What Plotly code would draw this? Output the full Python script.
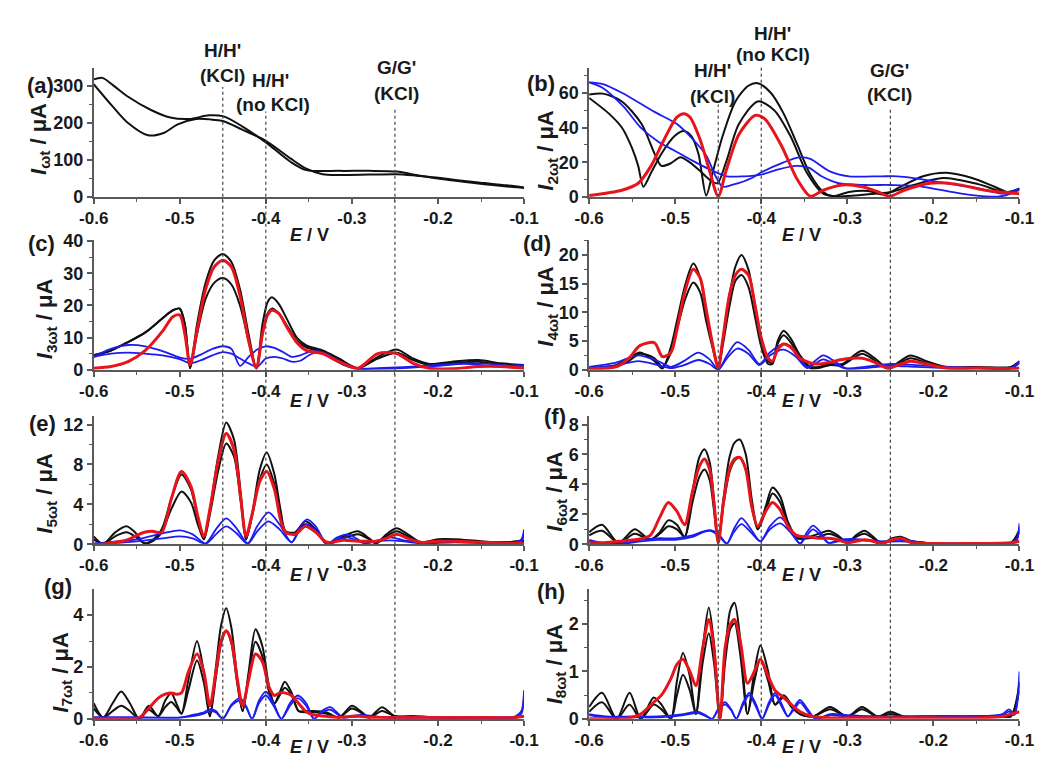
import plotly.graph_objects as go

# ------------------------------------------------------------------ data
x_ticks = [-0.6, -0.5, -0.4, -0.3, -0.2, -0.1]
x_tick_labels = ["-0.6", "-0.5", "-0.4", "-0.3", "-0.2", "-0.1"]
x_minor = [-0.55, -0.45, -0.35, -0.25, -0.15]
marker_E = [-0.45, -0.40, -0.25]

# (a) DC component, two sweeps
a1_x = [-0.6, -0.578, -0.56, -0.537, -0.518, -0.503, -0.481, -0.465, -0.449, -0.428, -0.4, -0.371,
        -0.353, -0.334, -0.315, -0.28, -0.248, -0.225, -0.202, -0.175, -0.146, -0.125, -0.112, -0.1]
a1_y = [305, 245, 200, 167, 174, 196, 211, 210, 205, 183, 152, 104, 77, 62, 60, 61, 62, 58, 53, 45,
        38, 33, 30, 26]
a2_x = [-0.6, -0.59, -0.578, -0.56, -0.534, -0.511, -0.489, -0.466, -0.449, -0.428, -0.4, -0.371,
        -0.353, -0.315, -0.28, -0.248, -0.225, -0.202, -0.175, -0.146, -0.12, -0.104, -0.1]
a2_y = [318, 322, 303, 271, 236, 215, 211, 221, 218, 192, 148, 95, 73, 71, 71, 69, 60, 51, 43, 35,
        29, 26, 25]

# (b) 2nd harmonic
b_black1_x = [-0.6, -0.577, -0.562, -0.55, -0.543, -0.537, -0.528, -0.516, -0.501, -0.49, -0.481,
              -0.473, -0.464, -0.456, -0.445, -0.43, -0.415, -0.404, -0.389, -0.374, -0.358, -0.343,
              -0.328, -0.317, -0.298, -0.276, -0.257, -0.242, -0.212, -0.185, -0.155, -0.129,
              -0.114, -0.1]
b_black1_y = [57, 48, 40, 28, 18, 6, 14, 25, 35, 38, 35, 25, 1, 15, 35, 55, 64, 65.5, 60, 48, 30, 13,
              3, 0.5, 3, 3.5, 1.5, 5, 12, 14, 11, 6, 3, 5]
b_black2_x = [-0.6, -0.584, -0.562, -0.539, -0.524, -0.516, -0.505, -0.494, -0.483, -0.471, -0.46,
              -0.451, -0.441, -0.426, -0.404, -0.385, -0.366, -0.347, -0.328, -0.313, -0.291,
              -0.268, -0.249, -0.223, -0.189, -0.148, -0.118, -0.1]
b_black2_y = [59, 59.5, 55, 42, 25, 18, 19.5, 23, 20, 15, 10, 8, 20, 42, 55, 50, 35, 14, 2, 0.5, 1,
              2, 3, 7, 11, 7.5, 3, 4]
b_red_x = [-0.6, -0.562, -0.543, -0.528, -0.513, -0.498, -0.49, -0.483, -0.471, -0.46, -0.45, -0.441,
           -0.426, -0.407, -0.396, -0.377, -0.358, -0.343, -0.328, -0.306, -0.283, -0.264, -0.251,
           -0.234, -0.204, -0.174, -0.14, -0.1]
b_red_y = [1, 4, 8, 18, 33, 46, 48, 46, 33, 15, 0.5, 15, 36, 47, 45, 30, 10, 0.5, 4, 7, 6, 3, 0.5,
           4, 8, 7.5, 4, 2]
b_blue1_x = [-0.6, -0.584, -0.562, -0.524, -0.498, -0.479, -0.464, -0.453, -0.445, -0.434, -0.411,
             -0.401, -0.374, -0.355, -0.343, -0.321, -0.298, -0.261, -0.242, -0.223, -0.185, -0.148,
             -0.118, -0.1]
b_blue1_y = [66, 65, 60, 49, 42, 33, 24, 12, 6, 7, 11, 14, 20, 23, 22, 15, 12, 12, 12, 11, 8, 5, 2, 5]
b_blue2_x = [-0.6, -0.585, -0.56, -0.54, -0.52, -0.498, -0.48, -0.46, -0.44, -0.42, -0.4, -0.38,
             -0.36, -0.345, -0.33, -0.31, -0.28, -0.25, -0.22, -0.19, -0.16, -0.14, -0.125, -0.11,
             -0.1]
b_blue2_y = [66, 63, 52, 40, 32, 26, 21, 16, 12, 12, 13, 16, 18, 17, 12, 8, 7, 7, 6.5, 4, 1.5, 0.5,
             0.3, 2, 5]

# (c) 3rd harmonic
c_x = [-0.6, -0.58, -0.56, -0.54, -0.52, -0.508, -0.5, -0.494, -0.488, -0.48, -0.47, -0.46, -0.45,
       -0.44, -0.43, -0.42, -0.411, -0.404, -0.398, -0.393, -0.385, -0.375, -0.364, -0.353, -0.334,
       -0.315, -0.293, -0.27, -0.248, -0.229, -0.21, -0.184, -0.153, -0.127, -0.1]
c_black1 = [4.5, 6, 8.6, 11.6, 16, 18.5, 19, 14, 0.5, 14, 27, 34, 36, 33.5, 25, 11, 0.5, 14, 21, 22.5,
            20.5, 15.5, 10, 7.6, 6, 3.5, 0.5, 4, 6.3, 3.5, 1.8, 2.5, 3, 2, 1.5]
c_black2 = [4.5, 6, 8.6, 11.6, 16, 18.5, 19, 14, 0.5, 11, 22, 27, 28.5, 26.5, 20, 9, 0.5, 11, 17.5, 19,
            17.5, 13.5, 9, 7, 5.5, 3, 0.5, 3.5, 5.3, 3, 1.5, 2, 2.5, 1.5, 1.3]
c_red = [0.5, 1, 2.5, 6, 12, 16.5, 17, 11, 1.5, 12, 25, 32, 34, 32, 23, 9, 0.5, 11, 17, 18.5, 17.5, 13,
         8.5, 6, 5, 2.5, 0.5, 5, 5, 2, 0.5, 0.3, 1, 1, 0.5]
c_bx = [-0.6, -0.58, -0.56, -0.54, -0.52, -0.5, -0.488, -0.475, -0.462, -0.45, -0.44, -0.43, -0.42,
        -0.41, -0.4, -0.39, -0.38, -0.37, -0.36, -0.35, -0.34, -0.33, -0.32, -0.31, -0.295, -0.27,
        -0.24, -0.2, -0.17, -0.14, -0.12, -0.1]
c_blue1 = [4, 6.5, 7.7, 7.3, 5.8, 3.8, 3.4, 4.8, 6.5, 7.3, 6.5, 1.2, 4, 6.3, 7.3, 6.8, 5.5, 4, 4.5,
           5.5, 5.8, 5, 3.5, 2, 0.5, 0.5, 0.8, 1.5, 2, 1.8, 1.3, 1.5]
c_blue2 = [4, 5, 5.3, 5, 4.5, 3.3, 2, 3, 4.5, 5.5, 5, 3.5, 2, 1, 3.5, 4, 3.5, 2.5, 2.8, 4.5, 5.5, 4.5,
           3, 1.5, 0.3, 0.3, 0.5, 1.2, 1.8, 1.2, 0.8, 0.8]

# (d) 4th harmonic
d_x = [-0.6, -0.569, -0.554, -0.541, -0.524, -0.515, -0.505, -0.498, -0.488, -0.479, -0.471, -0.464,
       -0.456, -0.45, -0.445, -0.437, -0.43, -0.423, -0.415, -0.407, -0.4, -0.392, -0.387, -0.381,
       -0.374, -0.366, -0.355, -0.343, -0.333, -0.321, -0.306, -0.283, -0.268, -0.253, -0.227,
       -0.208, -0.185, -0.148, -0.11, -0.1]
d_black1 = [0.3, 0.8, 2, 3, 1.5, 0.2, 4, 8.5, 15, 18.5, 16, 10, 4, 0.3, 5, 13, 18, 20, 17.5, 11, 5,
            1.5, 1.2, 5, 6.8, 5.5, 2.5, 0.5, 0.5, 1, 1, 3.3, 2, 0.3, 2.5, 1.5, 0.5, 0.5, 0.5, 1.5]
d_black2 = [0.3, 0.5, 1.5, 2.8, 2, 0.5, 3, 7, 12.5, 15.2, 13.5, 8.5, 3.5, 0.3, 4, 11, 15.5, 16.5,
            14.5, 9, 4, 1, 1, 4.5, 6, 4.8, 2, 0.3, 0.3, 0.8, 0.8, 2.8, 1.6, 0.2, 2, 1.2, 0.3, 0.3,
            0.3, 1.2]
d_red = [0.2, 0.5, 2, 4.2, 4.7, 2.3, 3, 7, 14, 17.5, 16, 10.5, 4, 0.3, 5, 13, 16.5, 17.5, 16.5, 11,
         5.5, 2, 1.5, 3.5, 4.5, 4, 2, 1.2, 1, 1.3, 1.8, 2, 1.3, 0.3, 1.5, 1, 0.3, 0.3, 0.2, 0.3]
d_bx = [-0.6, -0.57, -0.543, -0.52, -0.505, -0.49, -0.473, -0.46, -0.45, -0.44, -0.428, -0.415,
        -0.402, -0.39, -0.374, -0.36, -0.347, -0.338, -0.328, -0.315, -0.302, -0.28, -0.25, -0.22,
        -0.18, -0.14, -0.11, -0.1]
d_blue1 = [0.5, 1.2, 2.5, 1.5, 0.5, 1.5, 3, 1.8, 0, 2.5, 4.8, 3.5, 1, 3, 4.5, 3, 0.5, 1.5, 2.5, 1.5,
           0.3, 0.5, 1, 0.8, 0.5, 0.3, 0.3, 1.5]
d_blue2 = [0.3, 0.7, 1.5, 0.8, 0.3, 0.8, 1.7, 1, 0, 2, 3.7, 2.8, 0.8, 2.5, 3.5, 2.3, 0.3, 1, 1.8, 1,
           0.2, 0.3, 0.7, 0.5, 0.3, 0.2, 0.2, 1.2]

# (e) 5th harmonic
e_x = [-0.6, -0.589, -0.575, -0.562, -0.552, -0.541, -0.532, -0.521, -0.51, -0.498, -0.487, -0.479,
       -0.472, -0.465, -0.455, -0.446, -0.437, -0.429, -0.423, -0.416, -0.407, -0.399, -0.39, -0.383,
       -0.377, -0.366, -0.354, -0.342, -0.329, -0.31, -0.293, -0.28, -0.272, -0.26, -0.248, -0.235,
       -0.22, -0.2, -0.18, -0.15, -0.12, -0.1]
e_black1 = [0.8, 0.05, 1.2, 1.8, 1.2, 0.1, 0.4, 1.5, 4.5, 7.0, 5.5, 2.5, 0.5, 3.5, 9, 12.2, 10.5, 5,
            0.5, 3, 7.5, 9.2, 7, 3.5, 1.3, 1.2, 2.3, 1.5, 0.05, 0.8, 1.3, 0.6, 0.1, 1.0, 1.6, 1.0,
            0.2, 0.5, 0.5, 0.3, 0.2, 0.4]
e_black2 = [0.5, 0.05, 0.8, 1.2, 0.8, 0.1, 0.3, 1.2, 3.5, 5.3, 4.2, 2, 0.5, 3, 7.5, 10.1, 8.8, 4.2,
            0.5, 2.8, 6.5, 8.0, 6, 3, 1.2, 1.1, 2.0, 1.3, 0.05, 0.6, 1.0, 0.5, 0.1, 0.8, 1.3, 0.8,
            0.2, 0.4, 0.4, 0.2, 0.2, 0.3]
e_red = [0, 0, 0.2, 0.4, 0.8, 1.2, 1.3, 1.2, 4.5, 7.3, 5.8, 2.8, 0.8, 3.5, 8.5, 11.1, 9.5, 4.5, 0.8,
         3, 6.3, 7.3, 5.5, 2.5, 1.2, 1.0, 1.8, 1.2, 0.2, 0.4, 0.3, 0.3, 0.3, 0.6, 1.0, 0.6, 0.2, 0.3,
         0.3, 0.2, 0.1, 0.1]
e_bx = [-0.6, -0.55, -0.52, -0.5, -0.485, -0.47, -0.458, -0.446, -0.434, -0.421, -0.41, -0.397,
        -0.384, -0.37, -0.36, -0.352, -0.342, -0.329, -0.317, -0.305, -0.295, -0.285, -0.27, -0.255,
        -0.24, -0.22, -0.18, -0.14, -0.11, -0.103, -0.1]
e_blue1 = [0.1, 0.5, 1.1, 1.4, 1.0, 0.1, 1.5, 2.6, 1.6, 0.1, 1.8, 3.2, 2.0, 0.2, 1.8, 2.5, 1.8, 0.05,
           0.7, 1.0, 0.6, 0.1, 0.4, 0.7, 0.4, 0.2, 0.3, 0.2, 0.2, 0.5, 1.5]
e_blue2 = [0, 0.3, 0.6, 0.8, 0.6, 0.05, 1.0, 1.8, 1.1, 0.05, 1.3, 2.3, 1.5, 0.2, 1.5, 2.0, 1.4, 0.05,
           0.5, 0.7, 0.4, 0.1, 0.3, 0.4, 0.3, 0.1, 0.2, 0.1, 0.1, 0.3, 1.0]

# (f) 6th harmonic
f_x = [-0.6, -0.585, -0.566, -0.547, -0.529, -0.518, -0.508, -0.498, -0.489, -0.48, -0.472, -0.466,
       -0.46, -0.455, -0.45, -0.444, -0.437, -0.431, -0.425, -0.418, -0.411, -0.404, -0.395, -0.387,
       -0.378, -0.369, -0.359, -0.345, -0.333, -0.322, -0.311, -0.3, -0.29, -0.28, -0.27, -0.26,
       -0.248, -0.238, -0.225, -0.2, -0.15, -0.11, -0.1]
f_black1 = [0.8, 1.3, 0.1, 1.0, 0.3, 0.8, 1.6, 1.3, 0.5, 3.5, 5.8, 6.35, 5.5, 3, 0.1, 3, 5.8, 6.8,
            7.0, 6, 3, 1.0, 2.5, 3.8, 3.2, 1.5, 0.5, 0.5, 0.7, 0.9, 0.6, 0.1, 0.6, 0.9, 0.5, 0.05,
            0.4, 0.5, 0.2, 0.05, 0.05, 0.1, 1.0]
f_black2 = [0.6, 0.9, 0.1, 0.7, 0.3, 0.7, 1.2, 1.0, 0.5, 2.8, 4.5, 5.0, 4.3, 2.3, 0.1, 2.6, 4.8, 5.6,
            5.8, 5, 2.5, 1.0, 2.2, 3.4, 2.8, 1.3, 0.4, 0.4, 0.5, 0.7, 0.5, 0.1, 0.5, 0.7, 0.4, 0.05,
            0.3, 0.4, 0.2, 0.05, 0.05, 0.1, 0.8]
f_red = [0.1, 0.1, 0.2, 0.3, 0.6, 1.8, 2.8, 2.2, 1.3, 3.5, 5.2, 5.7, 5, 2.8, 0.1, 2.8, 5, 5.7, 5.8, 5,
         2.5, 1.2, 2.2, 2.8, 2.3, 1.2, 0.6, 0.5, 0.4, 0.4, 0.3, 0.1, 0.2, 0.3, 0.2, 0.05, 0.3, 0.4,
         0.1, 0.05, 0.05, 0.1, 0.2]
f_bx = [-0.6, -0.58, -0.56, -0.54, -0.52, -0.5, -0.48, -0.468, -0.459, -0.45, -0.44, -0.432, -0.423,
        -0.412, -0.401, -0.39, -0.378, -0.366, -0.355, -0.347, -0.34, -0.331, -0.322, -0.31, -0.29,
        -0.26, -0.24, -0.2, -0.15, -0.11, -0.103, -0.1]
f_blue1 = [0.3, 0.05, 0.1, 0.3, 0.4, 0.4, 0.6, 0.85, 0.95, 0.7, 0.05, 1.0, 1.75, 1.0, 0.2, 1.2, 1.8,
           1.0, 0.05, 0.8, 1.25, 0.8, 0.1, 0.3, 0.35, 0.2, 0.3, 0.05, 0.05, 0.1, 0.4, 1.4]
f_blue2 = [0.2, 0.05, 0.05, 0.2, 0.3, 0.3, 0.5, 0.8, 0.9, 0.6, 0.05, 0.8, 1.35, 0.8, 0.2, 1.0, 1.4,
           0.8, 0.05, 0.6, 1.0, 0.6, 0.1, 0.2, 0.3, 0.15, 0.2, 0.05, 0.05, 0.1, 0.3, 1.2]

# (g) 7th harmonic
g_x = [-0.6, -0.589, -0.578, -0.568, -0.558, -0.547, -0.536, -0.525, -0.517, -0.51, -0.504, -0.498,
       -0.49, -0.48, -0.472, -0.465, -0.458, -0.452, -0.446, -0.44, -0.433, -0.427, -0.42, -0.412,
       -0.404, -0.396, -0.39, -0.384, -0.378, -0.37, -0.362, -0.354, -0.345, -0.33, -0.315, -0.3,
       -0.29, -0.28, -0.265, -0.25, -0.23, -0.2, -0.15, -0.11, -0.1]
g_black1 = [0.6, 0.05, 0.6, 1.05, 0.6, 0.0, 0.5, 0.1, 0.7, 1.0, 0.6, 0.2, 1.5, 3.0, 1.8, 0.1, 2.0,
            3.6, 4.26, 3.5, 1.5, 0.3, 1.8, 3.45, 2.8, 1.2, 0.6, 1.0, 1.43, 1.0, 0.3, 0.3, 0.3, 0.25,
            0.05, 0.5, 0.3, 0.05, 0.45, 0.1, 0.1, 0.05, 0.05, 0.05, 0.1]
g_black2 = [0.4, 0.05, 0.3, 0.5, 0.3, 0.0, 0.35, 0.1, 0.45, 0.65, 0.45, 0.2, 1.1, 2.25, 1.4, 0.1,
            1.6, 2.9, 3.4, 2.9, 1.3, 0.3, 1.6, 2.97, 2.4, 1.0, 0.6, 0.9, 1.2, 0.9, 0.3, 0.25, 0.25,
            0.2, 0.05, 0.4, 0.25, 0.05, 0.3, 0.1, 0.1, 0.05, 0.05, 0.05, 0.1]
g_red = [0, 0, 0, 0, 0, 0.05, 0.4, 0.8, 0.95, 1.0, 0.95, 1.0, 1.8, 2.5, 1.8, 0.5, 1.8, 3.0, 3.4, 3.0,
         1.5, 0.5, 1.5, 2.5, 2.2, 1.2, 0.9, 1.0, 1.0, 0.9, 0.6, 0.3, 0.15, 0.1, 0.05, 0.1, 0.1, 0.05,
         0.05, 0.05, 0.05, 0.05, 0.05, 0.05, 0.1]
g_bx = [-0.6, -0.55, -0.5, -0.485, -0.472, -0.465, -0.458, -0.45, -0.44, -0.43, -0.423, -0.416,
        -0.408, -0.4, -0.391, -0.382, -0.372, -0.363, -0.353, -0.344, -0.335, -0.325, -0.316, -0.31,
        -0.29, -0.26, -0.2, -0.15, -0.11, -0.103, -0.1]
g_blue1 = [0.05, 0.05, 0.05, 0.15, 0.25, 0.37, 0.3, 0.0, 0.55, 0.8, 0.5, 0.0, 0.7, 1.05, 0.6, 0.0,
           0.6, 0.9, 0.6, 0.0, 0.3, 0.45, 0.2, 0.05, 0.15, 0.05, 0.05, 0.05, 0.1, 0.3, 1.1]
g_blue2 = [0.05, 0.05, 0.05, 0.1, 0.2, 0.3, 0.25, 0.0, 0.5, 0.7, 0.45, 0.0, 0.6, 0.9, 0.5, 0.0, 0.5,
           0.8, 0.5, 0.0, 0.25, 0.35, 0.15, 0.05, 0.1, 0.05, 0.05, 0.05, 0.05, 0.2, 0.9]

# (h) 8th harmonic
h_x = [-0.6, -0.585, -0.568, -0.553, -0.54, -0.525, -0.516, -0.505, -0.498, -0.491, -0.483, -0.476,
       -0.468, -0.461, -0.455, -0.448, -0.442, -0.436, -0.431, -0.424, -0.416, -0.408, -0.401,
       -0.392, -0.384, -0.374, -0.365, -0.355, -0.34, -0.32, -0.3, -0.283, -0.265, -0.25, -0.235,
       -0.2, -0.15, -0.12, -0.11, -0.1]
h_black1 = [0.25, 0.55, 0.0, 0.55, 0.0, 0.45, 0.3, 0.0, 0.8, 1.39, 0.9, 0.1, 1.5, 2.35, 1.6, 0.0, 1.4,
            2.3, 2.45, 1.6, 0.1, 1.0, 1.55, 1.0, 0.3, 0.5, 0.3, 0.1, 0.05, 0.25, 0.05, 0.25, 0.05,
            0.15, 0.05, 0.05, 0.05, 0.05, 0.05, 0.6]
h_black2 = [0.15, 0.35, 0.0, 0.3, 0.0, 0.3, 0.2, 0.0, 0.5, 0.93, 0.6, 0.1, 1.2, 1.81, 1.2, 0.0, 1.2,
            1.9, 2.02, 1.3, 0.1, 0.8, 1.26, 0.8, 0.3, 0.45, 0.25, 0.1, 0.05, 0.2, 0.05, 0.2, 0.05,
            0.1, 0.05, 0.05, 0.05, 0.05, 0.05, 0.75]
h_red = [0.0, 0.0, 0.0, 0.02, 0.1, 0.35, 0.5, 0.85, 1.15, 1.26, 1.0, 0.7, 1.5, 2.1, 1.5, 0.0, 1.5,
         2.0, 2.1, 1.6, 0.75, 1.0, 1.26, 0.9, 0.6, 0.45, 0.3, 0.15, 0.05, 0.02, 0.02, 0.02, 0.02,
         0.02, 0.02, 0.02, 0.02, 0.05, 0.1, 0.15]
h_bx = [-0.6, -0.58, -0.55, -0.52, -0.49, -0.474, -0.465, -0.457, -0.449, -0.442, -0.435, -0.429,
        -0.421, -0.414, -0.406, -0.399, -0.391, -0.384, -0.376, -0.369, -0.362, -0.355, -0.346,
        -0.337, -0.32, -0.3, -0.27, -0.2, -0.15, -0.12, -0.112, -0.106, -0.1]
h_blue1 = [0.1, 0.05, 0.05, 0.05, 0.1, 0.15, 0.08, 0.0, 0.25, 0.35, 0.2, 0.0, 0.35, 0.55, 0.3, 0.0,
           0.35, 0.55, 0.3, 0.05, 0.25, 0.4, 0.2, 0.0, 0.1, 0.08, 0.05, 0.05, 0.05, 0.1, 0.2, 0.1, 1.0]
h_blue2 = [0.08, 0.03, 0.03, 0.03, 0.08, 0.12, 0.06, 0.0, 0.22, 0.3, 0.18, 0.0, 0.3, 0.5, 0.25, 0.0,
           0.3, 0.5, 0.25, 0.05, 0.2, 0.35, 0.15, 0.0, 0.08, 0.05, 0.05, 0.05, 0.05, 0.08, 0.15, 0.08,
           0.8]

# y-axis ticks per panel
a_yticks = [0, 100, 200, 300]
b_yticks = [0, 20, 40, 60]
c_yticks = [0, 10, 20, 30, 40]
d_yticks = [0, 5, 10, 15, 20]
e_yticks = [0, 4, 8, 12]
f_yticks = [0, 2, 4, 6, 8]
g_yticks = [0, 2, 4]
h_yticks = [0, 1, 2]

# ------------------------------------------------------------------ layout helpers
W, H = 1051, 761
COLS = {"L": (81, 524), "R": (591, 1034)}
ROWS = [(60, 193), (237, 370), (417, 549), (595, 728)]

BLACK = "#111111"
RED = "#e8141b"
BLUE = "#1c1cf0"
AXC = "#5a5a5a"
TXT = "#1a1a1a"
FONT = "Liberation Sans, Arial, sans-serif"


def fx(p):
    return p / W


def fy(p):
    return 1 - p / H


panels = [
    # key, col, row, yrange, yticks, minor step, subscript, label pos, ytitle pos
    ("a", "L", 0, [0, 350], a_yticks, 50, "ωt", (26, 78), (25, 133)),
    ("b", "R", 0, [0, 74.5], b_yticks, 10, "2ωt", (541, 76), (548, 145)),
    ("c", "L", 1, [0, 40.3], c_yticks, 5, "3ωt", (27, 240), (32, 318)),
    ("d", "R", 1, [0, 22.6], d_yticks, 2.5, "4ωt", (537, 240), (548, 305)),
    ("e", "L", 2, [0, 12.9], e_yticks, 2, "5ωt", (28, 425), (32, 497)),
    ("f", "R", 2, [0, 8.6], f_yticks, 1, "6ωt", (556, 418), (557, 495)),
    ("g", "L", 3, [0, 5.0], g_yticks, 1, "7ωt", (44, 592), (48, 680)),
    ("h", "R", 3, [0, 2.74], h_yticks, 0.5, "8ωt", (552, 597), (557, 672)),
]

curves = {
    "a": [(a1_x, a1_y, "k"), (a2_x, a2_y, "k")],
    "b": [(b_black1_x, b_black1_y, "k"), (b_black2_x, b_black2_y, "k"),
          (b_blue1_x, b_blue1_y, "b"), (b_blue2_x, b_blue2_y, "b"), (b_red_x, b_red_y, "r")],
    "c": [(c_x, c_black1, "k"), (c_x, c_black2, "k"), (c_bx, c_blue1, "b"), (c_bx, c_blue2, "b"),
          (c_x, c_red, "r")],
    "d": [(d_x, d_black1, "k"), (d_x, d_black2, "k"), (d_bx, d_blue1, "b"), (d_bx, d_blue2, "b"),
          (d_x, d_red, "r")],
    "e": [(e_x, e_black1, "k"), (e_x, e_black2, "k"), (e_bx, e_blue1, "b"), (e_bx, e_blue2, "b"),
          (e_x, e_red, "r")],
    "f": [(f_x, f_black1, "k"), (f_x, f_black2, "k"), (f_bx, f_blue1, "b"), (f_bx, f_blue2, "b"),
          (f_x, f_red, "r")],
    "g": [(g_x, g_black1, "k"), (g_x, g_black2, "k"), (g_bx, g_blue1, "b"), (g_bx, g_blue2, "b"),
          (g_x, g_red, "r")],
    "h": [(h_x, h_black1, "k"), (h_x, h_black2, "k"), (h_bx, h_blue1, "b"), (h_bx, h_blue2, "b"),
          (h_x, h_red, "r")],
}
style = {"k": (BLACK, 2.0), "b": (BLUE, 1.8), "r": (RED, 3.0)}

fig = go.Figure()
layout = dict(
    width=W, height=H, margin=dict(l=0, r=0, t=0, b=0, pad=0), autosize=False,
    paper_bgcolor="white", plot_bgcolor="white", showlegend=False,
    font=dict(family=FONT, color=TXT),
)
annotations = []
shapes = []

for i, (key, col, row, yr, yt, ystep, sub, lpos, tpos) in enumerate(panels, start=1):
    xa = "xaxis" if i == 1 else f"xaxis{i}"
    ya = "yaxis" if i == 1 else f"yaxis{i}"
    xr = "x" if i == 1 else f"x{i}"
    yref = "y" if i == 1 else f"y{i}"
    c0, c1 = COLS[col]
    r0, r1 = ROWS[row]
    yminor = []
    v = ystep
    while v < yr[1] - 1e-9:
        if all(abs(v - t) > 1e-9 for t in yt):
            yminor.append(v)
        v += ystep
    layout[xa] = dict(
        domain=[fx(c0), fx(c1)], anchor=yref, range=[-0.6, -0.1],
        tickmode="array", tickvals=x_ticks, ticktext=x_tick_labels,
        ticks="outside", ticklen=5, tickwidth=1.5, tickcolor=AXC,
        showline=True, linecolor=AXC, linewidth=1.5, showgrid=False, zeroline=False,
        tickfont=dict(family=FONT, size=17, color=TXT, weight="bold"),
        minor=dict(tickmode="array", tickvals=x_minor, ticks="outside", ticklen=3,
                   tickwidth=1.2, tickcolor=AXC, showgrid=False),
    )
    layout[ya] = dict(
        domain=[fy(r1), fy(r0)], anchor=xr, range=yr,
        tickmode="array", tickvals=yt, ticktext=[str(t) for t in yt],
        ticks="outside", ticklen=5, tickwidth=1.5, tickcolor=AXC,
        showline=True, linecolor=AXC, linewidth=1.5, showgrid=False, zeroline=False,
        tickfont=dict(family=FONT, size=18, color=TXT, weight="bold"),
        minor=dict(tickmode="array", tickvals=yminor, ticks="outside", ticklen=3,
                   tickwidth=1.2, tickcolor=AXC, showgrid=False),
    )
    for xs, ys, kind in curves[key]:
        colr, w = style[kind]
        fig.add_trace(go.Scatter(
            x=xs, y=ys, mode="lines", xaxis=xr, yaxis=yref,
            line=dict(color=colr, width=w, shape="spline", smoothing=0.8),
            hoverinfo="skip",
        ))
    annotations.append(dict(x=fx(lpos[0]), y=fy(lpos[1]), xref="paper", yref="paper",
                            text=f"<b>({key})</b>", showarrow=False,
                            font=dict(family=FONT, size=22, color=TXT),
                            xanchor="center", yanchor="middle"))
    annotations.append(dict(x=fx(tpos[0]), y=fy(tpos[1]), xref="paper", yref="paper",
                            text=f"<b><i>I</i><sub>{sub}</sub> / μA</b>", showarrow=False,
                            textangle=-90, font=dict(family=FONT, size=22, color=TXT),
                            xanchor="center", yanchor="middle"))
    ex_pos = {0: 232, 1: 402, 2: 581, 3: 757}[row]
    exx = 303 if col == "L" else 810
    annotations.append(dict(x=fx(exx), y=fy(ex_pos), xref="paper", yref="paper",
                            text="<b><i>E</i> / V</b>", showarrow=False,
                            font=dict(family=FONT, size=18, color=TXT),
                            xanchor="center", yanchor="middle"))

line_tops = {"L": [80, 105, 102], "R": [98, 58, 103]}
for col, xref in (("L", "x"), ("R", "x2")):
    for e, top in zip(marker_E, line_tops[col]):
        shapes.append(dict(type="line", xref=xref, yref="paper", x0=e, x1=e,
                           y0=fy(728), y1=fy(top),
                           line=dict(color="#444444", width=1.2, dash="dot")))

labels = [
    ("H/H'", 214, 43), ("(KCl)", 214, 68),
    ("H/H'", 263, 73), ("(no KCl)", 266, 98),
    ("G/G'", 393, 60), ("(KCl)", 393, 87),
    ("H/H'", 718, 63), ("(KCl)", 718, 90),
    ("H/H'", 780, 25), ("(no KCl)", 780, 47),
    ("G/G'", 900, 63), ("(KCl)", 900, 88),
]
for t, px, py in labels:
    annotations.append(dict(x=fx(px), y=fy(py), xref="paper", yref="paper",
                            text=f"<b>{t}</b>", showarrow=False,
                            font=dict(family=FONT, size=19, color=TXT),
                            xanchor="center", yanchor="middle"))

layout["annotations"] = annotations
layout["shapes"] = shapes
fig.update_layout(**layout)
fig.write_html("out.html")
